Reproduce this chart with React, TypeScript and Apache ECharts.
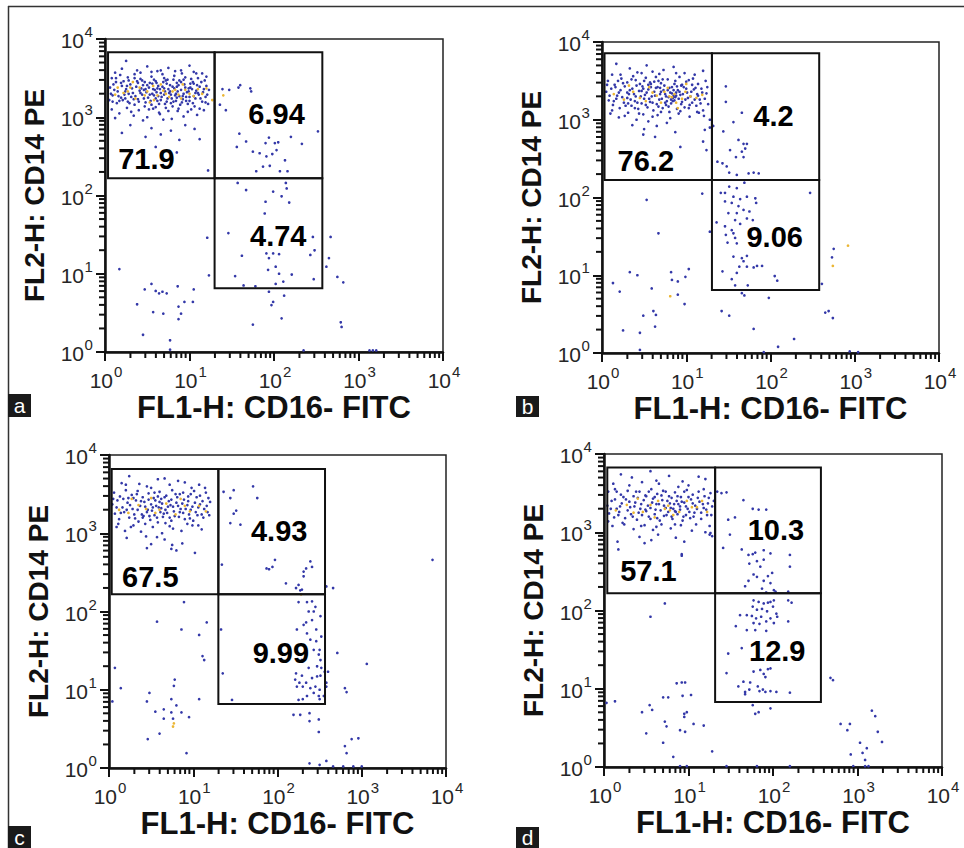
import React, { useEffect, useRef } from "react";
import * as echarts from "echarts";

const FONT = "'Liberation Sans', Arial, Helvetica, sans-serif";

// ---------- axes / text ----------
const decadeValues = [0, 1, 2, 3, 4];
const decadeExponents = ["0", "1", "2", "3", "4"];
const minorMultipliers = [2, 3, 4, 5, 6, 7, 8, 9];
const xTitle = "FL1-H: CD16- FITC";
const yTitle = "FL2-H: CD14 PE";
const panelLetters = ["a", "b", "c", "d"];

// ---------- gates (log10 decades) ----------
const gateXA = [0.036, 1.297, 2.572];
const gateYA = [0.814, 2.22, 3.83];
const gateXB = [0.03, 1.305, 2.578];
const gateYB = [0.81, 2.225, 3.855];
const gateXC = [0.032, 1.298, 2.564];
const gateYC = [0.817, 2.221, 3.821];
const gateXD = [0.039, 1.315, 2.567];
const gateYD = [0.832, 2.22, 3.829];

// ---------- quadrant percentages ----------
const quadTextA = ["71.9", "6.94", "4.74"];
const quadPosA = [[0.49, 2.47], [2.03, 3.04], [2.05, 1.48]];
const quadTextB = ["76.2", "4.2", "9.06"];
const quadPosB = [[0.52, 2.47], [2.035, 3.05], [2.05, 1.49]];
const quadTextC = ["67.5", "4.93", "9.99"];
const quadPosC = [[0.49, 2.445], [2.02, 3.03], [2.04, 1.466]];
const quadTextD = ["57.1", "10.3", "12.9"];
const quadPosD = [[0.525, 2.5], [2.035, 3.03], [2.05, 1.48]];

// ---------- events (log10 decades: [FL1, FL2]) ----------
const clusterA = [
  [0.25,3.72],[0.75,3.63],[1.0,3.66],[0.2,3.62],[0.5,3.65],[0.9,3.6],[1.05,3.58],[0.62,3.59],[0.12,3.57],[0.38,3.6],[1.15,3.56],
  [0.08,3.5],[0.18,3.54],[0.28,3.47],[0.35,3.55],[0.42,3.49],[0.55,3.52],[0.6,3.46],[0.68,3.55],[0.74,3.48],[0.82,3.53],[0.88,3.47],[0.95,3.51],[1.02,3.49],[1.1,3.5],[1.18,3.47],[0.47,3.45],[0.22,3.46],[0.13,3.45],[0.7,3.5],[0.91,3.56],
  [0.06,3.38],[0.1,3.42],[0.15,3.33],[0.2,3.4],[0.25,3.36],[0.3,3.42],[0.33,3.31],[0.37,3.39],[0.41,3.34],[0.45,3.41],[0.49,3.32],[0.52,3.38],[0.56,3.43],[0.59,3.35],[0.63,3.4],[0.66,3.31],[0.7,3.37],[0.73,3.43],[0.77,3.33],[0.8,3.39],[0.84,3.3],[0.87,3.41],[0.9,3.35],[0.94,3.42],[0.97,3.32],[1.01,3.38],[1.05,3.43],[1.08,3.34],[1.12,3.39],[1.16,3.32],[1.2,3.4],[1.23,3.35],[0.28,3.3],[0.53,3.44],[0.61,3.32],[0.75,3.36],[0.85,3.44],[0.99,3.37],[0.43,3.37],[0.65,3.36],
  [0.05,3.22],[0.09,3.28],[0.14,3.18],[0.19,3.25],[0.23,3.29],[0.27,3.2],[0.31,3.26],[0.35,3.16],[0.39,3.23],[0.44,3.29],[0.48,3.19],[0.51,3.25],[0.55,3.16],[0.58,3.28],[0.62,3.21],[0.67,3.26],[0.71,3.17],[0.74,3.24],[0.78,3.29],[0.81,3.2],[0.85,3.25],[0.89,3.16],[0.92,3.27],[0.96,3.21],[1.0,3.26],[1.04,3.18],[1.07,3.24],[1.11,3.29],[1.15,3.2],[1.19,3.26],[1.22,3.17],[0.46,3.24],[0.6,3.24],[0.83,3.28],[0.64,3.17],[0.98,3.17],
  [0.08,3.1],[0.17,3.05],[0.26,3.12],[0.34,3.02],[0.4,3.09],[0.5,3.0],[0.57,3.11],[0.65,3.04],[0.72,3.12],[0.79,2.98],[0.86,3.08],[0.93,3.01],[1.02,3.1],[1.09,3.03],[1.17,3.09],[0.45,2.96],[0.69,2.97],[0.12,2.99],
  [0.3,2.9],[0.55,2.86],[0.78,2.83],[0.95,2.9],[0.2,2.8],[0.48,2.75],[0.66,2.78],[1.06,2.85],[1.12,2.72],[0.88,2.71],[0.85,2.55],[1.22,2.32],[0.6,2.62]
];
const clusterCoreA = [
  [0.11,3.35],[0.16,3.27],[0.19,3.44],[0.24,3.24],[0.26,3.4],[0.29,3.18],[0.32,3.37],[0.36,3.27],[0.38,3.46],[0.4,3.2],[0.42,3.31],[0.46,3.35],[0.47,3.14],[0.5,3.41],[0.53,3.29],[0.54,3.21],[0.57,3.36],[0.6,3.13],[0.61,3.44],[0.63,3.27],[0.66,3.22],[0.68,3.39],[0.7,3.29],[0.72,3.47],[0.73,3.2],[0.76,3.31],[0.77,3.41],[0.79,3.24],[0.8,3.14],[0.82,3.37],[0.84,3.21],[0.86,3.33],[0.88,3.27],[0.9,3.45],[0.91,3.19],[0.93,3.3],[0.95,3.38],[0.96,3.26],[0.99,3.33],[1.0,3.21],[1.03,3.36],[1.05,3.27],[1.06,3.14],[1.09,3.41],[1.1,3.31],[1.13,3.24],[1.14,3.45],[1.17,3.36],[1.19,3.19],[1.21,3.29],
  [0.07,3.3],[0.09,3.2],[0.13,3.5],[0.21,3.22],[0.27,3.51],[0.34,3.23],[0.44,3.47],[0.52,3.1],[0.58,3.48],[0.64,3.06],[0.69,3.45],[0.75,3.08],[0.81,3.48],[0.87,3.11],[0.93,3.48],[0.98,3.07],[1.04,3.45],[1.12,3.11],[1.2,3.52],[0.31,3.07],[0.39,3.44],[0.48,3.36],[0.56,3.3],[0.62,3.37],[0.71,3.33],[0.78,3.18],[0.85,3.39],[0.92,3.23],[1.01,3.43],[1.07,3.31],[0.24,3.33],[0.17,3.21],[0.35,3.5],[0.55,3.58],[0.83,3.59],[1.08,3.56],[0.42,3.57],[0.66,3.6]
];
const eventsA = [
  [1.39,3.36],[1.47,3.35],[1.58,3.38],[1.6,3.41],[1.72,3.37],[1.73,3.33],[1.36,3.16],[1.43,3.09],[1.74,3.07],[1.59,2.79],[1.56,2.62],[1.67,2.69],[1.9,2.67],[1.94,2.74],[2.01,2.67],[2.05,2.68],[1.75,2.56],[1.83,2.54],[1.91,2.5],[1.98,2.53],[2.03,2.58],[2.13,2.45],[2.2,2.75],[2.33,2.66],[2.52,2.82],[1.79,2.31],[1.87,2.37],[1.95,2.38],[2.07,2.31],[2.16,2.31],
  [1.57,2.16],[1.67,2.07],[2.14,2.16],[2.15,2.09],[1.9,1.92],[1.99,2.05],[2.09,1.99],[2.18,1.91],[1.89,1.77],[1.46,1.52],[2.46,1.47],[2.67,1.47],[1.62,1.23],[1.91,1.26],[1.99,1.26],[2.06,1.25],[1.94,1.2],[2.48,1.3],[2.43,1.24],[1.93,1.05],[2.02,1.09],[2.06,1.0],[2.21,0.99],[2.47,0.93],[2.65,1.2],[2.62,1.09],[1.54,0.97],[1.64,0.85],[1.78,0.84],[2.02,0.87],[2.11,0.9],
  [1.21,1.46],[1.23,0.98],[2.75,0.96],[2.82,0.89],[2.79,0.38],[2.8,0.32],[1.94,0.77],[1.99,0.64],[1.97,0.6],[2.12,0.72],[2.09,0.43],[1.75,0.35],[2.35,0.02],[3.13,0.02],[3.17,0.02],[3.21,0.02],
  [0.17,1.06],[0.47,0.8],[0.55,0.87],[0.6,0.78],[0.64,0.75],[0.68,0.77],[0.73,0.75],[0.38,0.61],[0.57,0.51],[0.69,0.49],[0.86,0.84],[0.87,0.58],[0.94,0.64],[0.9,0.49],[0.87,0.42],[1.05,0.8],[1.04,0.64],[0.45,0.22],[0.77,0.15],[0.77,0.03]
];
const hotA = [
  [0.22,3.31],[0.47,3.28],[0.58,3.22],[0.72,3.3],[0.83,3.35],[1.0,3.3],[0.3,3.38],[0.66,3.42],[0.9,3.24],[1.1,3.36],[0.53,3.19],[0.15,3.38],
  [0.12,3.29],[0.27,3.33],[0.36,3.24],[0.41,3.38],[0.5,3.33],[0.62,3.28],[0.69,3.34],[0.76,3.26],[0.8,3.33],[0.87,3.29],[0.95,3.35],[1.05,3.27],[1.15,3.3],[1.2,3.37],[0.33,3.45],[0.57,3.4],[0.92,3.42],[1.27,3.22],[1.4,3.28]
];

const clusterB = [
  [0.17,3.72],[0.33,3.66],[0.53,3.7],[0.6,3.62],[0.85,3.68],[0.98,3.6],[1.2,3.63],[0.42,3.61],[0.73,3.64],[0.12,3.58],
  [0.07,3.5],[0.15,3.45],[0.23,3.53],[0.3,3.48],[0.37,3.56],[0.45,3.46],[0.52,3.54],[0.57,3.48],[0.64,3.55],[0.7,3.47],[0.78,3.52],[0.86,3.46],[0.92,3.55],[1.0,3.49],[1.08,3.53],[1.14,3.46],[1.23,3.5],[0.4,3.51],[0.67,3.5],[0.95,3.45],
  [0.05,3.36],[0.11,3.4],[0.18,3.31],[0.22,3.38],[0.27,3.43],[0.32,3.33],[0.36,3.4],[0.4,3.3],[0.44,3.37],[0.48,3.43],[0.51,3.32],[0.55,3.39],[0.59,3.3],[0.62,3.36],[0.66,3.42],[0.69,3.33],[0.73,3.38],[0.76,3.3],[0.8,3.41],[0.83,3.34],[0.87,3.29],[0.9,3.38],[0.93,3.32],[0.97,3.42],[1.01,3.35],[1.05,3.3],[1.09,3.39],[1.13,3.33],[1.18,3.4],[1.24,3.34],[0.85,3.31],[0.82,3.26],[0.88,3.35],[0.58,3.42],[0.3,3.35],
  [0.08,3.25],[0.13,3.19],[0.17,3.27],[0.21,3.15],[0.26,3.22],[0.3,3.28],[0.35,3.18],[0.39,3.24],[0.43,3.14],[0.47,3.21],[0.5,3.27],[0.54,3.16],[0.57,3.23],[0.61,3.12],[0.65,3.2],[0.68,3.26],[0.72,3.15],[0.75,3.22],[0.79,3.17],[0.84,3.24],[0.89,3.14],[0.94,3.2],[0.99,3.26],[1.03,3.15],[1.07,3.22],[1.12,3.18],[1.16,3.26],[1.2,3.12],[1.26,3.2],
  [0.1,3.08],[0.2,3.03],[0.31,3.09],[0.41,3.0],[0.49,3.07],[0.6,3.04],[0.7,3.1],[0.81,3.02],[0.91,3.08],[1.04,3.04],[1.15,3.09],[0.55,2.98],[0.77,2.96],
  [0.5,2.88],[0.65,2.92],[0.87,2.84],[0.36,2.93],[1.28,2.9],[1.28,3.0],
  [0.49,2.81],[0.63,2.78],[0.93,2.65],[1.22,2.87],[1.2,2.72],[1.24,2.61]
];
const clusterCoreB = [
  [0.09,3.31],[0.14,3.24],[0.16,3.42],[0.2,3.35],[0.24,3.29],[0.25,3.47],[0.28,3.18],[0.33,3.38],[0.34,3.26],[0.38,3.33],[0.41,3.44],[0.42,3.22],[0.46,3.3],[0.49,3.4],[0.52,3.19],[0.53,3.35],[0.56,3.27],[0.58,3.46],[0.6,3.22],[0.63,3.31],[0.64,3.41],[0.67,3.17],[0.7,3.36],[0.71,3.27],[0.74,3.44],[0.75,3.33],[0.77,3.24],[0.78,3.38],[0.79,3.29],[0.81,3.35],[0.82,3.21],[0.84,3.28],[0.85,3.38],[0.86,3.25],[0.88,3.31],[0.89,3.43],[0.91,3.27],[0.92,3.36],[0.95,3.23],[0.96,3.33],[0.98,3.16],[1.0,3.4],[1.02,3.28],[1.06,3.36],[1.07,3.45],[1.1,3.26],[1.11,3.41],[1.14,3.31],[1.17,3.21],[1.19,3.35],[1.22,3.27],[1.25,3.42],
  [0.06,3.45],[0.12,3.12],[0.19,3.5],[0.27,3.05],[0.35,3.52],[0.44,3.08],[0.5,3.5],[0.62,3.49],[0.66,3.06],[0.72,3.52],[0.8,3.1],[0.87,3.5],[0.93,3.11],[1.03,3.51],[1.13,3.1],[1.21,3.05],[0.31,3.21],[0.39,3.15],[0.47,3.37],[0.55,3.45],[0.69,3.41],[0.76,3.19],[0.83,3.42],[0.94,3.44],[1.04,3.19],[0.22,3.58],[0.47,3.6],[0.68,3.59],[0.88,3.6],[1.1,3.58]
];
const eventsB = [
  [1.47,3.43],[1.47,3.23],[1.32,2.92],[1.44,2.85],[1.56,2.97],[1.66,3.09],[1.62,2.74],[1.68,2.69],[1.72,2.69],[1.7,2.63],[1.66,2.59],[1.68,2.52],[1.52,2.61],[1.59,2.52],[1.43,2.44],[1.48,2.4],[1.51,2.32],[1.6,2.29],[1.74,2.31],[1.8,2.32],[1.86,2.31],[1.37,2.46],
  [1.41,2.06],[1.46,2.06],[1.51,2.14],[1.6,2.12],[1.69,2.19],[1.56,2.01],[1.64,1.98],[1.72,2.01],[1.82,1.99],[1.83,1.93],[1.46,1.95],[1.54,1.93],[1.62,1.89],[1.5,1.8],[1.6,1.8],[1.68,1.84],[1.75,1.82],[1.58,1.71],[1.64,1.66],[1.72,1.73],[1.79,1.71],[1.36,1.68],[1.46,1.63],[1.54,1.58],[1.47,1.52],[1.56,1.54],[1.58,1.48],[1.49,1.42],[1.6,1.41],[2.47,2.06],[1.56,1.24],[1.66,1.22],[1.72,1.25],[1.68,1.18],[1.63,1.11],[1.72,1.11],[1.8,1.1],[1.84,1.12],[1.9,1.12],[1.43,1.05],[1.6,1.03],[1.54,0.95],[2.05,0.99],[2.08,0.93],[1.58,0.87],[1.73,0.87],
  [1.19,2.05],[0.53,1.97],[0.67,1.54],[1.28,1.56],[0.13,0.9],[0.21,0.79],[0.33,1.04],[0.42,1.0],[0.25,0.29],[0.45,0.26],[0.45,0.04],[0.49,0.48],[0.59,0.83],[0.61,0.54],[0.64,0.49],[0.63,0.34],[0.82,1.04],[0.83,0.94],[0.9,0.92],[0.9,0.75],[0.98,0.63],[0.99,0.98],[1.03,1.08],[1.42,0.54],[1.51,0.48],[1.66,0.77],[1.69,0.74],[1.8,0.31],[1.98,0.71],[2.09,0.08],[2.28,0.18],[2.61,0.89],[2.65,0.52],[2.69,0.54],[2.74,0.45],[2.73,1.23],[2.75,1.34],[2.94,0.02],[3.04,0.01],[1.92,0.01]
];
const hotB = [
  [0.83,3.29],[0.86,3.33],[0.8,3.3],[0.6,3.35],[0.45,3.28],[0.95,3.27],[0.7,3.22],[1.05,3.3],[0.81,0.73],[2.74,1.12],[2.92,1.38],
  [0.14,3.33],[0.26,3.26],[0.37,3.36],[0.52,3.24],[0.65,3.31],[0.74,3.36],[0.88,3.22],[0.99,3.36],[1.12,3.28],[1.19,3.32],[0.32,3.44],[0.56,3.42],[0.78,3.41],[1.0,3.46],[0.9,3.15]
];

const clusterC = [
  [0.24,3.73],[0.36,3.63],[0.58,3.69],[0.66,3.7],[0.82,3.67],[0.9,3.65],[1.07,3.62],[0.15,3.64],[0.45,3.6],[0.98,3.58],
  [0.06,3.52],[0.13,3.47],[0.2,3.55],[0.27,3.49],[0.34,3.54],[0.4,3.46],[0.47,3.51],[0.53,3.45],[0.6,3.53],[0.68,3.48],[0.75,3.55],[0.81,3.46],[0.88,3.52],[0.94,3.47],[1.01,3.54],[1.08,3.48],[1.15,3.52],[0.23,3.45],[0.62,3.44],
  [0.04,3.37],[0.1,3.42],[0.16,3.33],[0.22,3.39],[0.28,3.31],[0.32,3.42],[0.37,3.35],[0.42,3.4],[0.46,3.3],[0.5,3.37],[0.55,3.42],[0.59,3.33],[0.63,3.38],[0.67,3.3],[0.71,3.41],[0.76,3.34],[0.8,3.39],[0.85,3.31],[0.89,3.43],[0.93,3.36],[0.97,3.3],[1.02,3.39],[1.06,3.33],[1.11,3.41],[1.16,3.35],[1.2,3.4],[0.73,3.36],[0.52,3.33],
  [0.07,3.25],[0.12,3.18],[0.18,3.27],[0.24,3.2],[0.3,3.24],[0.35,3.15],[0.41,3.22],[0.45,3.27],[0.49,3.17],[0.54,3.23],[0.58,3.14],[0.64,3.21],[0.69,3.26],[0.74,3.16],[0.78,3.22],[0.84,3.27],[0.9,3.18],[0.95,3.24],[1.0,3.16],[1.05,3.23],[1.12,3.2],[1.17,3.27],[0.61,3.27],
  [0.09,3.08],[0.19,3.03],[0.29,3.1],[0.38,3.02],[0.52,3.08],[0.63,3.0],[0.72,3.09],[0.86,3.03],[0.99,3.1],[1.1,3.05],[0.44,2.96],[0.57,2.95],
  [0.21,2.94],[0.5,2.86],[0.66,2.92],[0.75,2.85],[0.74,2.8],[0.8,2.78],[1.02,2.75],[0.87,2.87],[0.45,2.81]
];
const clusterCoreC = [
  [0.09,3.33],[0.14,3.26],[0.17,3.44],[0.21,3.3],[0.25,3.36],[0.29,3.45],[0.31,3.19],[0.34,3.3],[0.38,3.41],[0.39,3.24],[0.43,3.34],[0.47,3.43],[0.48,3.22],[0.51,3.29],[0.56,3.35],[0.57,3.2],[0.6,3.4],[0.62,3.32],[0.65,3.25],[0.66,3.46],[0.7,3.34],[0.72,3.2],[0.74,3.43],[0.77,3.28],[0.79,3.5],[0.82,3.35],[0.83,3.21],[0.87,3.38],[0.88,3.26],[0.91,3.31],[0.94,3.41],[0.96,3.19],[0.99,3.34],[1.03,3.27],[1.04,3.46],[1.08,3.37],[1.1,3.24],[1.13,3.31],[1.18,3.45],[1.19,3.23],
  [0.05,3.44],[0.11,3.12],[0.26,3.08],[0.33,3.5],[0.43,3.12],[0.54,3.52],[0.67,3.13],[0.76,3.06],[0.84,3.5],[0.93,3.12],[1.06,3.1],[1.14,3.58],[0.2,3.62],[0.5,3.58],[0.72,3.62],[0.4,3.2],[0.58,3.47],[0.97,3.5]
];
const eventsC = [
  [1.36,3.53],[1.48,3.55],[1.44,3.45],[1.51,3.29],[1.48,3.25],[1.44,3.13],[1.71,3.6],[1.76,3.45],[1.56,3.11],[1.34,2.6],[1.87,2.55],[1.94,2.57],[1.97,2.66],[1.9,2.54],[2.1,2.36],[2.25,2.34],[2.29,2.28],[2.31,2.45],[2.34,2.55],[2.39,2.64],[2.41,2.57],[2.31,2.51],[2.22,2.3],[2.27,2.27],
  [2.25,2.12],[2.35,2.12],[2.41,2.13],[2.45,2.06],[2.43,2.0],[2.37,2.0],[2.34,1.86],[2.31,1.83],[2.23,1.77],[2.41,1.89],[2.46,1.77],[2.51,1.94],[2.35,1.72],[2.39,1.64],[2.52,1.68],[2.43,1.51],[2.49,1.45],[2.51,1.38],[2.47,1.3],[2.52,1.28],[2.37,1.28],[2.22,1.21],[2.29,1.18],[2.21,1.13],[2.26,1.09],[2.34,1.09],[2.41,1.15],[2.47,1.17],[2.51,1.18],[2.56,1.23],[2.58,1.09],[2.45,1.04],[2.39,1.02],[2.3,1.04],[2.23,1.04],[2.5,1.0],[2.55,0.92],[2.5,0.88],[2.25,0.87],[2.3,0.88],[2.43,0.96],[2.35,0.92],[1.35,1.21],[1.33,1.77],[1.46,0.87],[2.6,1.23],[2.58,1.04],[2.49,0.92],[2.29,1.38],[2.5,1.51],[2.46,1.62],
  [2.66,2.3],[2.58,2.32],[2.71,1.47],[3.06,1.33],[3.84,2.66],[2.8,1.02],[2.82,0.97],[2.19,0.68],[2.27,0.68],[2.38,0.7],[2.38,0.6],[2.49,0.62],[2.49,0.46],[2.88,0.37],[2.96,0.38],[2.8,0.28],[2.82,0.19],[2.38,0.06],[2.5,0.04],[2.58,0.09],[2.66,0.02],[2.78,0.02],[3.0,0.02],[2.9,0.02],
  [0.07,1.28],[0.14,1.02],[0.04,0.85],[0.57,1.87],[0.86,1.77],[0.89,2.12],[1.07,1.7],[1.16,1.86],[1.13,1.38],[1.11,1.43],[0.78,1.13],[0.77,1.05],[0.74,0.88],[0.8,0.8],[0.74,0.71],[0.76,0.63],[0.45,0.85],[0.48,0.96],[0.55,0.72],[0.65,0.75],[0.65,0.63],[0.6,0.44],[0.46,0.37],[0.86,0.71],[0.95,0.65],[1.07,0.88],[0.92,0.19]
];
const hotC = [
  [0.35,3.36],[0.6,3.3],[0.9,3.35],[0.5,3.45],[0.77,0.57],[0.76,0.53],[2.28,2.22],
  [0.12,3.3],[0.23,3.26],[0.44,3.31],[0.55,3.26],[0.68,3.38],[0.79,3.24],[0.96,3.28],[1.07,3.35],[1.15,3.28],[0.27,3.44],[0.85,3.44]
];

const clusterD = [
  [0.2,3.74],[0.33,3.7],[0.55,3.78],[0.62,3.66],[0.77,3.72],[0.93,3.65],[1.12,3.71],[1.2,3.68],[0.45,3.64],[1.0,3.6],[0.11,3.62],
  [0.05,3.52],[0.13,3.55],[0.2,3.48],[0.28,3.53],[0.35,3.46],[0.42,3.52],[0.49,3.47],[0.56,3.55],[0.63,3.49],[0.7,3.53],[0.77,3.46],[0.84,3.51],[0.91,3.45],[0.98,3.54],[1.05,3.48],[1.12,3.52],[1.19,3.46],[1.26,3.5],[0.6,3.45],
  [0.04,3.34],[0.09,3.4],[0.15,3.3],[0.21,3.37],[0.26,3.42],[0.31,3.32],[0.37,3.38],[0.43,3.3],[0.47,3.41],[0.52,3.34],[0.57,3.38],[0.61,3.29],[0.65,3.36],[0.69,3.41],[0.73,3.31],[0.78,3.37],[0.82,3.3],[0.86,3.4],[0.9,3.33],[0.95,3.38],[0.99,3.3],[1.03,3.42],[1.08,3.34],[1.13,3.39],[1.18,3.31],[1.23,3.37],[1.28,3.33],[0.8,3.44],[0.88,3.36],
  [0.06,3.24],[0.12,3.19],[0.18,3.26],[0.25,3.18],[0.32,3.23],[0.39,3.16],[0.45,3.22],[0.5,3.27],[0.55,3.17],[0.6,3.23],[0.66,3.15],[0.71,3.21],[0.76,3.26],[0.81,3.17],[0.87,3.23],[0.93,3.15],[0.97,3.22],[1.02,3.18],[1.07,3.25],[1.15,3.17],[1.22,3.22],[0.84,3.27],
  [0.1,3.08],[0.24,3.1],[0.35,3.04],[0.48,3.09],[0.58,3.03],[0.68,3.1],[0.79,3.05],[0.91,3.09],[1.04,3.02],[1.2,3.0],[1.25,3.08],[0.42,2.94],[0.64,2.97],[0.85,2.93],
  [0.16,2.88],[0.95,2.88],[0.56,2.9],[0.92,2.72],[0.92,2.7],[0.17,2.78],[0.48,2.86],[1.25,2.97]
];
const clusterCoreD = [
  [0.08,3.3],[0.13,3.42],[0.17,3.22],[0.19,3.33],[0.23,3.45],[0.28,3.28],[0.3,3.39],[0.34,3.2],[0.36,3.33],[0.4,3.44],[0.41,3.25],[0.44,3.36],[0.49,3.29],[0.5,3.46],[0.53,3.2],[0.55,3.31],[0.58,3.43],[0.62,3.36],[0.63,3.18],[0.67,3.28],[0.68,3.47],[0.71,3.34],[0.74,3.22],[0.75,3.4],[0.79,3.31],[0.8,3.2],[0.83,3.36],[0.85,3.26],[0.87,3.46],[0.9,3.29],[0.92,3.39],[0.94,3.2],[0.97,3.33],[1.0,3.45],[1.01,3.26],[1.05,3.37],[1.06,3.2],[1.1,3.3],[1.11,3.44],[1.15,3.25],[1.17,3.36],[1.21,3.29],[1.24,3.44],[1.27,3.22],
  [0.05,3.14],[0.15,3.52],[0.22,3.12],[0.38,3.52],[0.44,3.08],[0.53,3.52],[0.62,3.07],[0.73,3.52],[0.84,3.1],[0.95,3.52],[1.09,3.1],[1.18,3.55],[0.3,3.6],[0.65,3.62],[0.88,3.58],[1.3,3.4]
];
const eventsD = [
  [1.34,3.52],[1.39,3.5],[1.45,3.51],[1.47,3.16],[1.49,2.97],[1.55,3.19],[1.65,3.41],[1.76,3.3],[1.83,3.29],[1.92,3.29],[1.41,2.8],[1.63,2.78],[1.71,2.71],[1.76,2.72],[1.79,2.74],[1.89,2.77],[1.97,2.73],[1.72,2.6],[1.81,2.63],[1.89,2.65],[1.85,2.56],[1.77,2.46],[1.81,2.43],[1.94,2.44],[1.99,2.48],[1.89,2.38],[1.97,2.35],[1.71,2.38],[1.67,2.31],[1.87,2.28],[2.2,2.71],[2.2,2.56],[2.01,2.26],[1.92,2.23],[2.03,2.24],[2.18,2.24],[1.28,2.95],[1.26,2.99],
  [1.77,2.13],[1.83,2.11],[1.89,2.09],[1.94,2.1],[1.97,2.11],[2.01,2.13],[2.18,2.13],[2.22,2.1],[1.76,2.05],[1.81,2.01],[1.87,2.02],[1.93,1.99],[2.0,2.05],[2.04,1.96],[1.69,1.94],[1.75,1.93],[1.8,1.9],[1.86,1.92],[1.97,1.9],[2.05,1.92],[1.77,1.84],[1.84,1.83],[1.92,1.86],[2.01,1.84],[2.18,1.86],[1.61,1.94],[1.56,1.8],[1.69,1.75],[1.79,1.75],[1.92,1.74],[1.47,1.45],[1.63,1.52],[1.45,1.2],[1.77,1.22],[1.85,1.24],[1.89,1.19],[1.94,1.25],[1.97,1.26],[1.91,1.15],[1.65,1.09],[1.73,1.08],[1.82,1.03],[1.88,0.99],[1.97,0.97],[2.04,0.96],[1.59,1.03],[1.67,0.96],[1.84,0.97],[2.2,0.95],[1.91,0.96],[1.72,0.99],[1.67,0.93],
  [0.72,2.09],[0.55,1.92],[0.03,0.82],[0.13,0.84],[0.45,0.7],[0.54,0.79],[0.57,0.73],[0.5,0.43],[0.7,0.89],[0.76,0.89],[0.86,1.07],[0.92,1.08],[0.96,1.08],[0.93,0.91],[1.03,0.92],[0.95,0.68],[0.98,0.7],[0.95,0.64],[0.72,0.58],[0.74,0.52],[0.9,0.47],[0.96,0.45],[1.06,0.55],[1.18,0.53],[0.7,0.31],[0.82,0.13],[1.28,0.2],[0.9,0.01],[0.98,0.01],[1.45,0.01],[1.81,0.01],[2.2,0.01],[1.76,0.79],[1.79,0.68],[1.83,0.7],[1.97,0.75],[2.68,1.14],[2.71,1.11],[2.8,0.55],[2.91,0.55],[2.88,0.47],[3.03,0.31],[3.06,0.18],[2.92,0.16],[3.11,0.24],[3.17,0.72],[3.21,0.65],[3.24,0.45],[3.29,0.32],[3.09,0.09],[3.13,0.01],[3.09,0.01],[2.95,0.01]
];
const hotD = [
  [0.55,3.35],[0.72,3.3],[0.82,3.22],[0.98,3.4],[0.35,3.25],[1.1,3.32],[0.78,3.28],
  [0.14,3.28],[0.27,3.35],[0.46,3.26],[0.64,3.4],[0.76,3.34],[0.89,3.26],[1.04,3.32],[1.16,3.4],[1.22,3.26],[0.4,3.43],[0.6,3.19]
];

// ---------- layout (pixels) ----------
const gridLayout = [
  { left: 105, top: 39, width: 338, height: 313 },
  { left: 602, top: 42, width: 337, height: 311 },
  { left: 109, top: 455, width: 337, height: 313 },
  { left: 604, top: 454, width: 338, height: 313 },
];
const letterBoxes = [
  { x: 8, y: 394, w: 23, h: 23 },
  { x: 516, y: 396, w: 23, h: 21 },
  { x: 8, y: 826, w: 23, h: 22 },
  { x: 516, y: 827, w: 23, h: 21 },
];

const panels = [
  { gx: gateXA, gy: gateYA, qt: quadTextA, qp: quadPosA, blue: [...clusterA, ...clusterCoreA, ...eventsA], hot: hotA },
  { gx: gateXB, gy: gateYB, qt: quadTextB, qp: quadPosB, blue: [...clusterB, ...clusterCoreB, ...eventsB], hot: hotB },
  { gx: gateXC, gy: gateYC, qt: quadTextC, qp: quadPosC, blue: [...clusterC, ...clusterCoreC, ...eventsC], hot: hotC },
  { gx: gateXD, gy: gateYD, qt: quadTextD, qp: quadPosD, blue: [...clusterD, ...clusterCoreD, ...eventsD], hot: hotD },
];

const minorTickDecades: number[] = [];
for (let d = 0; d < 4; d++) for (const k of minorMultipliers) minorTickDecades.push(d + Math.log10(k));

const INK = "#111";
const LABEL = "#262626";
const BASE_SIZE = 21;
const SUP_SIZE = 15;

function buildOption() {
  const grid: any[] = [];
  const xAxis: any[] = [];
  const yAxis: any[] = [];
  const series: any[] = [];

  panels.forEach((p, i) => {
    grid.push({ ...gridLayout[i], show: true, borderColor: "#222", borderWidth: 1.5, backgroundColor: "transparent" });
    const common = {
      type: "value",
      gridIndex: i,
      min: 0,
      max: 4,
      interval: 1,
      splitLine: { show: false },
      axisLabel: { show: false },
      axisLine: { show: true, onZero: false, lineStyle: { color: INK, width: 2.5 } },
      axisTick: { show: true, inside: false, length: 9, lineStyle: { color: INK, width: 2 } },
    };
    xAxis.push({
      ...common,
      position: "bottom",
      name: xTitle,
      nameLocation: "middle",
      nameGap: 40,
      nameTextStyle: { fontSize: 31, fontWeight: "bold", color: INK, fontFamily: FONT },
    });
    yAxis.push({
      ...common,
      position: "left",
      name: yTitle,
      nameLocation: "middle",
      nameGap: 57,
      nameTextStyle: { fontSize: 28, fontWeight: "bold", color: INK, fontFamily: FONT },
    });

    series.push({
      type: "scatter",
      xAxisIndex: i,
      yAxisIndex: i,
      data: p.blue,
      symbol: "circle",
      symbolSize: 2.7,
      itemStyle: { color: "#3338a8", opacity: 1 },
      silent: true,
      z: 2,
    });
    series.push({
      type: "scatter",
      xAxisIndex: i,
      yAxisIndex: i,
      data: p.hot,
      symbol: "circle",
      symbolSize: 2.7,
      itemStyle: { color: "#ebb634", opacity: 1 },
      silent: true,
      z: 3,
    });
    const gates = [
      [p.gx[0], p.gy[1], p.gx[1], p.gy[2]],
      [p.gx[1], p.gy[1], p.gx[2], p.gy[2]],
      [p.gx[1], p.gy[0], p.gx[2], p.gy[1]],
    ];
    series.push({
      type: "custom",
      xAxisIndex: i,
      yAxisIndex: i,
      clip: false,
      silent: true,
      z: 4,
      encode: { x: [0, 2], y: [1, 3] },
      data: gates,
      renderItem: (_params: any, api: any) => {
        const a = api.coord([api.value(0), api.value(1)]);
        const b = api.coord([api.value(2), api.value(3)]);
        return {
          type: "rect",
          shape: { x: a[0], y: b[1], width: b[0] - a[0], height: a[1] - b[1] },
          style: { fill: "none", stroke: INK, lineWidth: 2 },
        };
      },
    });
    // minor (log) ticks on both axes
    series.push({
      type: "custom",
      xAxisIndex: i,
      yAxisIndex: i,
      clip: false,
      silent: true,
      z: 4,
      encode: { x: 0, y: 1 },
      data: minorTickDecades.map((v) => [v, v]),
      renderItem: (_params: any, api: any) => {
        const v = api.value(0);
        const px = api.coord([v, 0]);
        const py = api.coord([0, v]);
        return {
          type: "group",
          children: [
            { type: "line", shape: { x1: px[0], y1: px[1], x2: px[0], y2: px[1] + 6 }, style: { stroke: INK, lineWidth: 2 } },
            { type: "line", shape: { x1: py[0] - 6, y1: py[1], x2: py[0], y2: py[1] }, style: { stroke: INK, lineWidth: 2 } },
          ],
        };
      },
    });
    // decade tick labels 10^n on both axes
    series.push({
      type: "custom",
      xAxisIndex: i,
      yAxisIndex: i,
      clip: false,
      silent: true,
      z: 4,
      encode: { x: 0, y: 1 },
      data: decadeValues.map((v) => [v, v]),
      renderItem: (params: any, api: any) => {
        const v = api.value(0);
        const exp = decadeExponents[params.dataIndex];
        const px = api.coord([v, 0]);
        const py = api.coord([0, v]);
        const base = { fill: LABEL, fontFamily: FONT, fontSize: BASE_SIZE, verticalAlign: "middle" };
        const sup = { fill: LABEL, fontFamily: FONT, fontSize: SUP_SIZE, verticalAlign: "middle" };
        return {
          type: "group",
          children: [
            { type: "text", x: px[0] + 8, y: px[1] + 28, style: { ...base, text: "10", align: "right" } },
            { type: "text", x: px[0] + 9, y: px[1] + 19.5, style: { ...sup, text: exp, align: "left" } },
            { type: "text", x: py[0] - 21, y: py[1] + 1.5, style: { ...base, text: "10", align: "right" } },
            { type: "text", x: py[0] - 20.5, y: py[1] - 7.5, style: { ...sup, text: exp, align: "left" } },
          ],
        };
      },
    });
    series.push({
      type: "scatter",
      xAxisIndex: i,
      yAxisIndex: i,
      data: p.qt.map((t, k) => ({ value: p.qp[k], name: t })),
      symbolSize: 1,
      itemStyle: { color: "rgba(0,0,0,0)", opacity: 1 },
      silent: true,
      z: 6,
      label: {
        show: true,
        position: "inside",
        formatter: "{b}",
        fontSize: 29,
        fontWeight: "bold",
        color: "#000",
        opacity: 1,
        fontFamily: FONT,
      },
    });
  });

  const graphic: any[] = [
    { type: "line", shape: { x1: 8, y1: 6.5, x2: 964, y2: 6.5 }, style: { stroke: "#333", lineWidth: 1.5 }, silent: true },
    { type: "line", shape: { x1: 8.5, y1: 6, x2: 8.5, y2: 848 }, style: { stroke: "#333", lineWidth: 1.5 }, silent: true },
  ];
  letterBoxes.forEach((b, i) => {
    graphic.push({ type: "rect", shape: { x: b.x, y: b.y, width: b.w, height: b.h }, style: { fill: "#1a1a1a" }, silent: true });
    graphic.push({
      type: "text",
      x: b.x + b.w / 2,
      y: b.y + b.h / 2,
      style: { text: panelLetters[i], fill: "#fff", fontSize: 21, fontFamily: FONT, align: "center", verticalAlign: "middle" },
      silent: true,
    });
  });

  return {
    animation: false,
    backgroundColor: "#ffffff",
    textStyle: { fontFamily: FONT },
    grid,
    xAxis,
    yAxis,
    series,
    graphic,
  };
}

export default function App() {
  const ref = useRef<HTMLDivElement>(null);
  useEffect(() => {
    if (!ref.current) return;
    const chart = echarts.init(ref.current, undefined, { renderer: "svg" });
    chart.setOption(buildOption() as any);
    return () => chart.dispose();
  }, []);
  return <div ref={ref} style={{ position: "absolute", left: 0, top: 0, width: 964, height: 848, background: "#fff" }} />;
}
